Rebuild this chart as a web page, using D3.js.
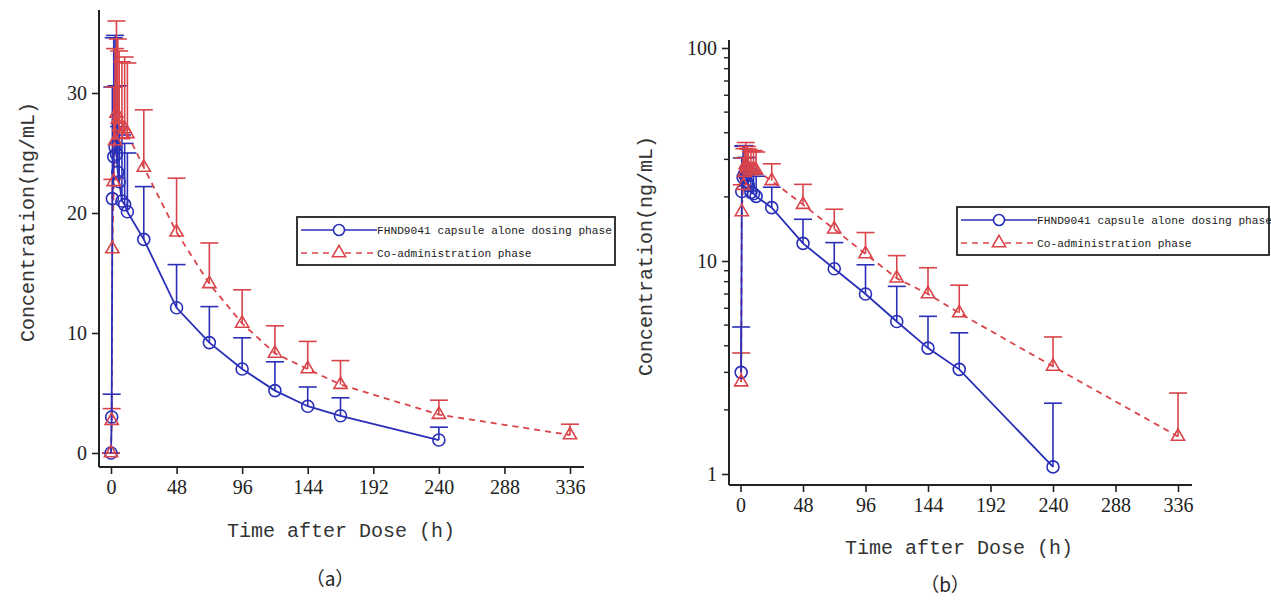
<!DOCTYPE html>
<html>
<head>
<meta charset="utf-8">
<script src="https://cdn.jsdelivr.net/npm/d3@7"></script>
<style>
html,body{margin:0;padding:0;background:#fff;}
svg{display:block;}
</style>
</head>
<body>
<svg id="chart" width="1271" height="604"></svg>
<script>
// ---- data ----
const timesBlue = [0, 0.5, 1, 2, 3, 4, 5, 6, 8, 10, 12, 24, 48, 72, 96, 120, 144, 168, 240];
const meanBlue  = [0, 3.0, 21.2, 24.7, 25.5, 24.9, 23.4, 22.6, 21.0, 20.7, 20.1, 17.8, 12.1, 9.2, 7.0, 5.2, 3.9, 3.1, 1.08];
const upperBlue = [0, 4.9, 30.5, 34.6, 34.8, 30.6, 30.6, 27.2, 26.5, 25.8, 25.0, 22.2, 15.7, 12.2, 9.6, 7.6, 5.5, 4.6, 2.15];

const timesRed  = [0, 0.5, 1, 2, 3, 4, 5, 6, 8, 10, 12, 24, 48, 72, 96, 120, 144, 168, 240, 336];
const meanRed   = [0, 2.7, 17.0, 22.6, 26.0, 28.3, 27.8, 27.2, 26.5, 27.0, 26.6, 23.8, 18.4, 14.1, 10.8, 8.3, 7.0, 5.7, 3.2, 1.5];
const upperRed  = [0, 3.7, 22.8, 30.5, 33.7, 36.0, 34.5, 33.5, 32.6, 33.0, 32.5, 28.6, 22.9, 17.5, 13.6, 10.6, 9.3, 7.7, 4.4, 2.4];

const xTicks = [0, 48, 96, 144, 192, 240, 288, 336];
const yTicksLinear = [0, 10, 20, 30];
const yTicksLog = [1, 10, 100];
const seriesNames = ["FHND9041 capsule alone dosing phase", "Co-administration phase"];
const xTitle = "Time after Dose (h)";
const yTitle = "Concentration(ng/mL)";
const panelLabels = ["（a）", "（b）"];

// ---- style ----
const BLUE = "#2a2fb8";
const RED = "#d9444a";
const monoFont = "'Liberation Mono','DejaVu Sans Mono',monospace";
const serifFont = "'Liberation Serif','DejaVu Serif',serif";

const svg = d3.select("#chart");

function makeSeries(times, means, uppers) {
  return times.map((t, i) => ({t: t, m: means[i], u: uppers[i]}));
}
const blue = makeSeries(timesBlue, meanBlue, upperBlue);
const red = makeSeries(timesRed, meanRed, upperRed);

function drawPanel(cfg) {
  const g = svg.append("g");
  const x = d3.scaleLinear().domain([0, 336]).range(cfg.xRange);
  const y = cfg.log
    ? d3.scaleLog().domain([1, 100]).range(cfg.yRange)
    : d3.scaleLinear().domain([0, 30]).range(cfg.yRange);

  const ok = d => !cfg.log || d.m > 0;
  const bData = blue.filter(ok), rData = red.filter(ok);

  // axes lines
  g.append("line").attr("x1", cfg.axisX).attr("x2", cfg.axisX)
    .attr("y1", cfg.axisTop).attr("y2", cfg.axisY)
    .attr("stroke", "#222").attr("stroke-width", 2);
  g.append("line").attr("x1", cfg.axisX).attr("x2", cfg.axisRight)
    .attr("y1", cfg.axisY).attr("y2", cfg.axisY)
    .attr("stroke", "#222").attr("stroke-width", 2);

  // x axis ticks
  const xa = g.append("g").attr("transform", `translate(0,${cfg.axisY})`)
    .call(d3.axisBottom(x).tickValues(xTicks).tickSize(7).tickSizeOuter(0).tickPadding(6));
  xa.select(".domain").remove();
  xa.selectAll("line").attr("stroke", "#222").attr("stroke-width", 1.6);
  xa.selectAll("text").attr("font-family", serifFont).attr("font-size", 20).attr("fill", "#222");

  // y axis ticks
  const ya = g.append("g").attr("transform", `translate(${cfg.axisX},0)`)
    .call(d3.axisLeft(y).tickValues(cfg.log ? yTicksLog : yTicksLinear)
      .tickFormat(d3.format("d")).tickSize(7).tickSizeOuter(0).tickPadding(5));
  ya.select(".domain").remove();
  ya.selectAll("line").attr("stroke", "#222").attr("stroke-width", 1.6);
  ya.selectAll("text").attr("font-family", serifFont).attr("font-size", 20).attr("fill", "#222");

  if (cfg.log) {
    const minor = [];
    [1, 10].forEach(dec => { for (let k = 2; k <= 9; k++) minor.push(dec * k); });
    g.append("g").selectAll("line").data(minor).join("line")
      .attr("x1", cfg.axisX - 5).attr("x2", cfg.axisX)
      .attr("y1", d => y(d)).attr("y2", d => y(d))
      .attr("stroke", "#222").attr("stroke-width", 1.4);
  }

  // error bars
  const cap = 9;
  function errBars(data, color) {
    const eg = g.append("g").attr("stroke", color).attr("stroke-width", 1.6).attr("fill", "none");
    eg.selectAll("line.v").data(data).join("line").attr("class", "v")
      .attr("x1", d => x(d.t)).attr("x2", d => x(d.t))
      .attr("y1", d => y(d.m)).attr("y2", d => y(d.u));
    eg.selectAll("line.c").data(data).join("line").attr("class", "c")
      .attr("x1", d => x(d.t) - cap).attr("x2", d => x(d.t) + cap)
      .attr("y1", d => y(d.u)).attr("y2", d => y(d.u));
  }
  errBars(bData, BLUE);
  errBars(rData, RED);

  // lines
  const line = d3.line().x(d => x(d.t)).y(d => y(d.m));
  g.append("path").datum(rData).attr("d", line).attr("fill", "none")
    .attr("stroke", RED).attr("stroke-width", 1.8).attr("stroke-dasharray", "6,5");
  g.append("path").datum(bData).attr("d", line).attr("fill", "none")
    .attr("stroke", BLUE).attr("stroke-width", 1.8);

  // markers
  g.append("g").selectAll("circle").data(bData).join("circle")
    .attr("cx", d => x(d.t)).attr("cy", d => y(d.m)).attr("r", 6)
    .attr("fill", "none").attr("stroke", BLUE).attr("stroke-width", 1.6);
  const tri = d3.symbol().type(d3.symbolTriangle).size(75);
  g.append("g").selectAll("path").data(rData).join("path")
    .attr("transform", d => `translate(${x(d.t)},${y(d.m)})`)
    .attr("d", tri).attr("fill", "none").attr("stroke", RED).attr("stroke-width", 1.6);

  // titles
  g.append("text").attr("x", cfg.xTitlePos[0]).attr("y", cfg.xTitlePos[1])
    .attr("text-anchor", "middle").attr("font-family", monoFont).attr("font-size", 20)
    .attr("fill", "#333").text(xTitle);
  g.append("text").attr("transform", `translate(${cfg.yTitlePos[0]},${cfg.yTitlePos[1]}) rotate(-90)`)
    .attr("text-anchor", "middle").attr("font-family", monoFont).attr("font-size", 20)
    .attr("fill", "#333").text(yTitle);
  g.append("text").attr("x", cfg.panelPos[0]).attr("y", cfg.panelPos[1])
    .attr("text-anchor", "middle").attr("font-family", "'Noto Sans CJK SC'," + serifFont)
    .attr("font-size", 19).attr("fill", "#222").text(cfg.panelLabel);

  // legend
  const L = cfg.legend;
  const lg = g.append("g");
  lg.append("rect").attr("x", L.x).attr("y", L.y).attr("width", L.w).attr("height", L.h)
    .attr("fill", "#fff").attr("stroke", "#222").attr("stroke-width", 1.8);
  const rows = [
    {name: seriesNames[0], color: BLUE, dash: null, marker: "circle"},
    {name: seriesNames[1], color: RED, dash: "6,5", marker: "tri"}
  ];
  rows.forEach((r, i) => {
    const yy = L.y + L.rowY[i];
    lg.append("line").attr("x1", L.x + 4).attr("x2", L.x + 80).attr("y1", yy).attr("y2", yy)
      .attr("stroke", r.color).attr("stroke-width", 1.6).attr("stroke-dasharray", r.dash);
    if (r.marker === "circle") {
      lg.append("circle").attr("cx", L.x + 42).attr("cy", yy).attr("r", 5.5)
        .attr("fill", "#fff").attr("stroke", r.color).attr("stroke-width", 1.6);
    } else {
      lg.append("path").attr("transform", `translate(${L.x + 42},${yy})`)
        .attr("d", tri).attr("fill", "#fff").attr("stroke", r.color).attr("stroke-width", 1.6);
    }
    lg.append("text").attr("x", L.x + 80).attr("y", yy + 4).attr("font-family", monoFont)
      .attr("font-size", 11.2).attr("fill", "#222").text(r.name);
  });
}

drawPanel({
  log: false,
  xRange: [111, 570], yRange: [453, 93],
  axisX: 99, axisY: 467, axisTop: 10, axisRight: 584,
  xTitlePos: [341, 537], yTitlePos: [34, 222], panelPos: [330, 586], panelLabel: panelLabels[0],
  legend: {x: 297, y: 217, w: 318, h: 48, rowY: [13, 36]}
});

drawPanel({
  log: true,
  xRange: [740.5, 1178], yRange: [474, 48],
  axisX: 729, axisY: 485, axisTop: 40, axisRight: 1192,
  xTitlePos: [959, 554], yTitlePos: [652, 256], panelPos: [945, 592], panelLabel: panelLabels[1],
  legend: {x: 957, y: 207, w: 312, h: 48, rowY: [13, 36]}
});
</script>
</body>
</html>
